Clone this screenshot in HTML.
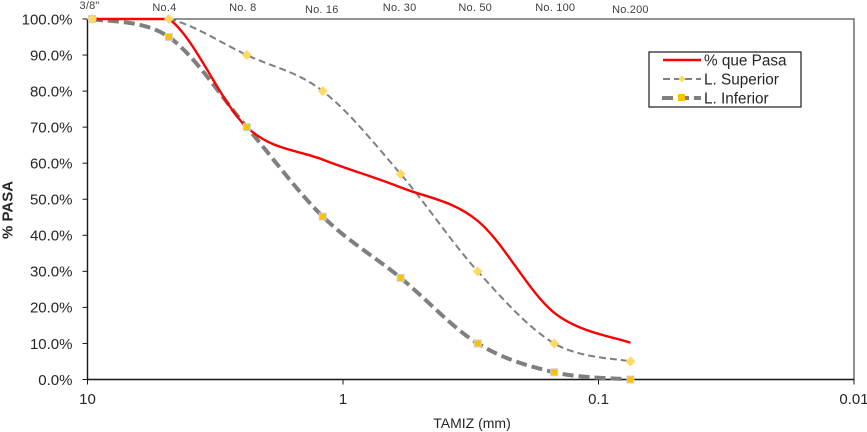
<!DOCTYPE html>
<html lang="es">
<head>
<meta charset="utf-8">
<title>Curva granulométrica</title>
<style>
html,body{margin:0;padding:0;background:#fff;width:867px;height:432px;overflow:hidden}
svg{display:block;filter:blur(0.3px)}
text{font-family:"Liberation Sans",sans-serif;fill:#262626}
</style>
</head>
<body>
<svg id="chart" width="867" height="432" viewBox="0 0 867 432" xmlns="http://www.w3.org/2000/svg"></svg>
<script>
const sieveLabels = ['3/8"', 'No.4', 'No. 8', 'No. 16', 'No. 30', 'No. 50', 'No. 100', 'No.200'];
const sieveSizes = [9.6, 4.8, 2.38, 1.2, 0.595, 0.297, 0.149, 0.075];
const pasaValues = [100, 100, 70, 61, 53.3, 44, 18.5, 10.2];
const superiorValues = [100, 100, 90, 80, 57, 30, 10, 5];
const inferiorValues = [100, 95, 70, 45.2, 28.2, 10, 2, 0];
const yTicks = [0, 10, 20, 30, 40, 50, 60, 70, 80, 90, 100];
const xTicks = [10, 1, 0.1, 0.01];

const svg = document.getElementById('chart');
const NS = 'http://www.w3.org/2000/svg';
const L = 87.5, R = 854, T = 19, B = 379.5;
function xScale(v) { return L + (R - L) * (1 - Math.log10(v)) / 3; }
function yScale(v) { return B - (B - T) * v / 100; }
function make(tag, attrs, text) {
  const el = document.createElementNS(NS, tag);
  for (const k in attrs) el.setAttribute(k, attrs[k]);
  if (text !== undefined) el.textContent = text;
  svg.appendChild(el);
  return el;
}
function clampY(y) { return Math.min(B, Math.max(T, y)); }
function smoothPath(values) {
  const p = values.map((v, i) => [xScale(sieveSizes[i]), yScale(v)]);
  let d = 'M' + p[0][0].toFixed(2) + ' ' + p[0][1].toFixed(2);
  for (let i = 0; i < p.length - 1; i++) {
    const a = p[Math.max(i - 1, 0)], b = p[i], c = p[i + 1], e = p[Math.min(i + 2, p.length - 1)];
    const c1 = [b[0] + (c[0] - a[0]) / 6, clampY(b[1] + (c[1] - a[1]) / 6)];
    const c2 = [c[0] - (e[0] - b[0]) / 6, clampY(c[1] - (e[1] - b[1]) / 6)];
    d += 'C' + [c1[0], c1[1], c2[0], c2[1], c[0], c[1]].map(n => n.toFixed(2)).join(' ');
  }
  return d;
}

// plot frame
const frame = make('rect', {x: L, y: T, width: R - L, height: B - T, fill: 'none', stroke: '#3a3a3a', 'stroke-width': 1.1});


const yAxis = make('line', {x1: L, x2: L, y1: T, y2: B, stroke: '#1a1a1a', 'stroke-width': 1.4});


const xAxis = make('line', {x1: L, x2: R, y1: B, y2: B, stroke: '#1a1a1a', 'stroke-width': 1.4});



// y ticks
yTicks.forEach(v => {
  const tick = make('line', {x1: L - 5, x2: L, y1: yScale(v), y2: yScale(v), stroke: '#1a1a1a', 'stroke-width': 1});
  
  
  const label = make('text', {x: 72.5, y: yScale(v) + 5.3, 'text-anchor': 'end', 'font-size': 15}, v.toFixed(1) + '%');
  
  
});

// x ticks
xTicks.forEach(v => {
  const tick = make('line', {x1: xScale(v), x2: xScale(v), y1: B, y2: B + 5, stroke: '#1a1a1a', 'stroke-width': 1});
  
  
  const label = make('text', {x: xScale(v), y: 404, 'text-anchor': 'middle', 'font-size': 15}, String(v));
  
  
});

// sieve labels along the top (hand-placed text boxes in the original chart)
const labelNudgeX = [-2.5, -4.5, -4, -1, -1, -2.5, 1, 0];
const labelBaseline = [9, 11, 11, 13, 11, 11, 11, 13];
sieveLabels.forEach((s, i) => {
  const label = make('text', {x: xScale(sieveSizes[i]) + labelNudgeX[i], y: labelBaseline[i], 'text-anchor': 'middle', 'font-size': 11, 'letter-spacing': 0.2, style: 'fill:#404040'}, s);
  
  
});

// axis titles
const xTitle = make('text', {x: 472, y: 428, 'text-anchor': 'middle', 'font-size': 14}, 'TAMIZ (mm)');


const yTitle = make('text', {x: 0, y: 0, 'text-anchor': 'middle', 'font-size': 15, 'font-weight': 'bold', transform: 'translate(12.5 210) rotate(-90)'}, '% PASA');



// series
function diamond(cx, cy, r) {
  return [[cx, cy - r], [cx + r, cy], [cx, cy + r], [cx - r, cy]].map(q => q.join(',')).join(' ');
}
const infLine = make('path', {d: smoothPath(inferiorValues), fill: 'none', stroke: '#7f7f7f', 'stroke-width': 4, 'stroke-dasharray': '11 5'});


const supLine = make('path', {d: smoothPath(superiorValues), fill: 'none', stroke: '#7f7f7f', 'stroke-width': 2, 'stroke-dasharray': '7 4'});


const pasaLine = make('path', {d: smoothPath(pasaValues), fill: 'none', stroke: '#ff0000', 'stroke-width': 2.4});



inferiorValues.forEach((v, i) => {
  const m = make('rect', {x: xScale(sieveSizes[i]) - 3.5, y: yScale(v) - 3.5, width: 7, height: 7, fill: '#ffc000', stroke: '#c5d3e6', 'stroke-width': 1});
  
  
});
superiorValues.forEach((v, i) => {
  const m = make('polygon', {points: diamond(xScale(sieveSizes[i]), yScale(v), 5), fill: '#ffd966'});
  
  
});

// legend
const legendBox = make('rect', {x: 649, y: 52, width: 152, height: 55, fill: '#fff', stroke: '#1a1a1a', 'stroke-width': 1.2});



const legPasa = make('line', {x1: 663, x2: 701, y1: 60, y2: 60, stroke: '#ff0000', 'stroke-width': 2.4});


const legPasaText = make('text', {x: 704, y: 65.5, 'font-size': 15.3}, '% que Pasa');



const legSup = make('line', {x1: 663, x2: 701, y1: 79, y2: 79, stroke: '#7f7f7f', 'stroke-width': 2, 'stroke-dasharray': '7 4'});


const legSupMark = make('polygon', {points: diamond(682, 79, 3.5), fill: '#ffd966'});


const legSupText = make('text', {x: 704, y: 84.5, 'font-size': 15.3}, 'L. Superior');



const legInf = make('line', {x1: 662, x2: 701, y1: 98, y2: 98, stroke: '#7f7f7f', 'stroke-width': 4, 'stroke-dasharray': '11 5'});


const legInfMark = make('rect', {x: 678, y: 94, width: 7, height: 7, fill: '#ffc000'});


const legInfText = make('text', {x: 704, y: 103.5, 'font-size': 15.3}, 'L. Inferior');


</script>
</body>
</html>
